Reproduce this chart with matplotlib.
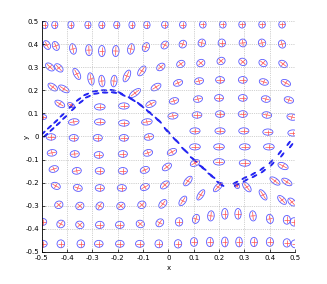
import numpy as np
import matplotlib
matplotlib.use("Agg")
import matplotlib.pyplot as plt
from matplotlib.patches import Ellipse
from matplotlib.collections import LineCollection

plt.rcParams["axes.unicode_minus"] = False

# ---------------------------------------------------------------------------
# Tensor glyphs: centre, full major / minor axis length, major-axis angle (deg)
# one line per (deformed) mesh row, top to bottom
# ---------------------------------------------------------------------------
ell_x = [
    -0.488, -0.449, -0.385, -0.318, -0.263, -0.204, -0.144, -0.085, -0.014, 0.057, 0.136, 0.215, 0.291, 0.370, 0.449,
    -0.480, -0.445, -0.377, -0.314, -0.263, -0.208, -0.148, -0.089, -0.014, 0.057, 0.132, 0.211, 0.294, 0.370, 0.449,
    -0.468, -0.433, -0.362, -0.306, -0.263, -0.215, -0.164, -0.105, -0.030, 0.049, 0.128, 0.208, 0.294, 0.374, 0.453,
    -0.457, -0.413, -0.132, -0.049, 0.038, 0.121, 0.204, 0.294, 0.377, 0.464,
    -0.429, -0.385, -0.271, -0.176, -0.069, 0.022, 0.117, 0.200, 0.294, 0.385, 0.476,
    -0.496, -0.374, -0.271, -0.176, -0.085, 0.018, 0.113, 0.204, 0.294, 0.389, 0.488,
    -0.464, -0.374, -0.279, -0.176, -0.077, 0.105, 0.204, 0.298, 0.393, 0.492,
    -0.460, -0.370, -0.275, -0.180, -0.081, 0.014, 0.105, 0.200, 0.302, 0.397,
    -0.453, -0.362, -0.271, -0.180, -0.093, -0.006, 0.105, 0.200, 0.302, 0.453,
    -0.445, -0.358, -0.271, -0.184, -0.093, -0.014, 0.077, 0.196, 0.271, 0.310, 0.421, 0.468,
    -0.433, -0.350, -0.271, -0.188, -0.105, -0.022, 0.057, 0.128, 0.374, 0.449, 0.488,
    -0.496, -0.425, -0.350, -0.271, -0.192, -0.111, -0.034, 0.042, 0.109, 0.168, 0.223, 0.275, 0.334, 0.401, 0.468, 0.496,
    -0.496, -0.425, -0.346, -0.275, -0.192, -0.113, -0.038, 0.038, 0.101, 0.164, 0.223, 0.279, 0.338, 0.401, 0.468, 0.500,
]
ell_y = [
    0.483, 0.483, 0.483, 0.483, 0.483, 0.483, 0.483, 0.483, 0.484, 0.484, 0.485, 0.485, 0.485, 0.485, 0.485,
    0.396, 0.392, 0.379, 0.374, 0.370, 0.370, 0.379, 0.387, 0.396, 0.400, 0.405, 0.405, 0.405, 0.405, 0.400,
    0.301, 0.297, 0.271, 0.249, 0.240, 0.240, 0.262, 0.284, 0.301, 0.314, 0.318, 0.327, 0.323, 0.318, 0.314,
    0.214, 0.206, 0.188, 0.214, 0.232, 0.240, 0.245, 0.245, 0.236, 0.232,
    0.141, 0.136, 0.128, 0.132, 0.141, 0.154, 0.162, 0.167, 0.167, 0.162, 0.158,
    0.084, 0.063, 0.063, 0.058, 0.063, 0.089, 0.093, 0.097, 0.097, 0.093, 0.084,
    -0.002, -0.006, -0.006, -0.006, -0.002, 0.024, 0.024, 0.024, 0.019, 0.015,
    -0.071, -0.076, -0.080, -0.076, -0.071, -0.067, -0.045, -0.045, -0.045, -0.045,
    -0.141, -0.149, -0.149, -0.149, -0.145, -0.132, -0.115, -0.110, -0.115, -0.128,
    -0.214, -0.223, -0.223, -0.223, -0.219, -0.210, -0.193, -0.219, -0.214, -0.219, -0.193, -0.197,
    -0.296, -0.301, -0.301, -0.301, -0.296, -0.292, -0.279, -0.253, -0.253, -0.275, -0.284,
    -0.370, -0.379, -0.383, -0.383, -0.383, -0.379, -0.374, -0.370, -0.357, -0.344, -0.335, -0.335, -0.344, -0.357, -0.361, -0.370,
    -0.465, -0.465, -0.465, -0.465, -0.465, -0.465, -0.465, -0.465, -0.457, -0.457, -0.457, -0.457, -0.457, -0.457, -0.461, -0.465,
]
ell_major = [
    0.032, 0.032, 0.032, 0.032, 0.032, 0.032, 0.032, 0.032, 0.031, 0.031, 0.031, 0.031, 0.031, 0.031, 0.031,
    0.040, 0.040, 0.046, 0.048, 0.048, 0.048, 0.046, 0.040, 0.036, 0.034, 0.034, 0.034, 0.034, 0.034, 0.035,
    0.042, 0.042, 0.052, 0.054, 0.050, 0.050, 0.054, 0.048, 0.038, 0.035, 0.034, 0.034, 0.034, 0.035, 0.038,
    0.044, 0.048, 0.054, 0.044, 0.038, 0.036, 0.035, 0.035, 0.037, 0.040,
    0.044, 0.030, 0.042, 0.042, 0.044, 0.038, 0.036, 0.035, 0.035, 0.036, 0.038,
    0.030, 0.042, 0.042, 0.042, 0.042, 0.040, 0.038, 0.036, 0.036, 0.038, 0.040,
    0.038, 0.036, 0.036, 0.036, 0.038, 0.040, 0.040, 0.040, 0.040, 0.040,
    0.038, 0.036, 0.036, 0.036, 0.038, 0.040, 0.042, 0.042, 0.042, 0.042,
    0.038, 0.036, 0.036, 0.036, 0.038, 0.042, 0.040, 0.044, 0.044, 0.044,
    0.038, 0.036, 0.036, 0.036, 0.038, 0.042, 0.048, 0.050, 0.024, 0.048, 0.048, 0.046,
    0.034, 0.034, 0.036, 0.034, 0.034, 0.042, 0.046, 0.050, 0.050, 0.046, 0.040,
    0.030, 0.034, 0.034, 0.034, 0.034, 0.034, 0.036, 0.036, 0.040, 0.044, 0.046, 0.046, 0.044, 0.040, 0.038, 0.036,
    0.034, 0.034, 0.034, 0.034, 0.034, 0.034, 0.034, 0.036, 0.038, 0.040, 0.042, 0.042, 0.040, 0.038, 0.036, 0.034,
]
ell_minor = [
    0.024, 0.024, 0.024, 0.024, 0.024, 0.024, 0.024, 0.025, 0.026, 0.026, 0.026, 0.026, 0.026, 0.026, 0.026,
    0.026, 0.026, 0.026, 0.026, 0.026, 0.026, 0.026, 0.027, 0.028, 0.029, 0.029, 0.029, 0.029, 0.029, 0.028,
    0.026, 0.026, 0.024, 0.024, 0.024, 0.024, 0.024, 0.025, 0.027, 0.029, 0.030, 0.030, 0.030, 0.029, 0.027,
    0.025, 0.024, 0.024, 0.026, 0.027, 0.028, 0.029, 0.029, 0.027, 0.026,
    0.025, 0.018, 0.027, 0.027, 0.026, 0.027, 0.028, 0.029, 0.029, 0.028, 0.027,
    0.022, 0.027, 0.027, 0.027, 0.027, 0.027, 0.028, 0.029, 0.029, 0.028, 0.027,
    0.028, 0.029, 0.029, 0.029, 0.028, 0.027, 0.027, 0.027, 0.027, 0.027,
    0.028, 0.029, 0.029, 0.029, 0.028, 0.026, 0.027, 0.027, 0.027, 0.027,
    0.028, 0.029, 0.029, 0.029, 0.028, 0.026, 0.026, 0.028, 0.028, 0.026,
    0.028, 0.029, 0.029, 0.029, 0.028, 0.026, 0.024, 0.022, 0.018, 0.024, 0.024, 0.024,
    0.031, 0.031, 0.029, 0.031, 0.031, 0.026, 0.024, 0.022, 0.022, 0.024, 0.025,
    0.030, 0.031, 0.031, 0.031, 0.031, 0.031, 0.029, 0.029, 0.027, 0.026, 0.025, 0.025, 0.026, 0.027, 0.028, 0.029,
    0.030, 0.030, 0.030, 0.030, 0.030, 0.030, 0.030, 0.029, 0.028, 0.027, 0.026, 0.026, 0.027, 0.028, 0.029, 0.030,
]
ell_angle = [
    90, 90, 90, 90, 90, 90, 90, 90, 90, 90, 90, 90, 90, 90, 90,
    115, 110, 100, 92, 90, 88, 80, 72, 60, 70, 80, 90, 95, 100, 105,
    135, 130, 115, 100, 95, 85, 68, 58, 45, 40, 45, 45, 135, 140, 140,
    140, 145, 40, 35, 25, 15, 0, 0, 160, 150,
    145, 150, 0, 0, 30, 20, 15, 0, 0, 165, 160,
    0, 10, 0, 0, 10, 10, 0, 0, 0, 170, 165,
    0, 0, 0, 0, 15, 0, 0, 0, 0, 0,
    10, 5, 0, 0, 20, 30, 0, 0, 0, 0,
    20, 10, 0, 0, 25, 40, 30, 0, 0, 150,
    150, 160, 0, 0, 30, 45, 55, 50, 120, 125, 140, 145,
    45, 45, 60, 45, 45, 55, 60, 60, 120, 130, 130,
    0, 60, 135, 0, 0, 135, 60, 90, 75, 85, 90, 90, 95, 100, 90, 90,
    0, 90, 90, 0, 0, 0, 90, 90, 90, 90, 90, 90, 90, 90, 90, 90,
]

# Strongly anisotropic glyphs hugging the discontinuity (drawn as thin dashes)
dash_x = [
    -0.495, -0.485, -0.470, -0.460, -0.445, -0.435, -0.420, -0.410,
    -0.385, -0.375, -0.355, -0.345,
    -0.325, -0.318, -0.290, -0.285, -0.255, -0.250, -0.220, -0.215,
    -0.190, -0.180, -0.150, -0.140, -0.115, -0.105, -0.080, -0.070, -0.045, -0.035,
    -0.010, 0.000, 0.025, 0.035, 0.060, 0.070, 0.095, 0.105, 0.130, 0.140, 0.165, 0.175, 0.200, 0.210,
    0.265, 0.270, 0.300, 0.305, 0.335, 0.340, 0.370, 0.375, 0.405, 0.410, 0.440, 0.450, 0.475, 0.485,
]
dash_y = [
    0.015, 0.005, 0.040, 0.030, 0.065, 0.055, 0.092, 0.082,
    0.130, 0.120, 0.160, 0.150,
    0.182, 0.172, 0.196, 0.186, 0.200, 0.190, 0.200, 0.190,
    0.188, 0.180, 0.165, 0.158, 0.140, 0.132, 0.108, 0.100, 0.075, 0.066,
    0.030, 0.020, -0.012, -0.022, -0.055, -0.065, -0.095, -0.105, -0.130, -0.140, -0.165, -0.175, -0.200, -0.210,
    -0.200, -0.210, -0.180, -0.190, -0.162, -0.172, -0.140, -0.150, -0.110, -0.120, -0.070, -0.080, -0.030, -0.040,
]
dash_angle = [
    45, 45, 45, 45, 45, 45, 45, 45,
    45, 45, 40, 40,
    25, 25, 10, 10, 0, 0, -10, -10,
    -30, -30, -35, -35, -45, -45, -50, -50, -50, -50,
    -55, -55, -50, -50, -45, -45, -40, -40, -35, -35, -35, -35, -30, -30,
    30, 30, 30, 30, 32, 32, 40, 40, 50, 50, 55, 55, 55, 55,
]

xticks = [-0.5, -0.4, -0.3, -0.2, -0.1, 0, 0.1, 0.2, 0.3, 0.4, 0.5]
yticks = [-0.5, -0.4, -0.3, -0.2, -0.1, 0, 0.1, 0.2, 0.3, 0.4, 0.5]


def add_glyphs(ax, xs, ys, major, minor, angle, lw, ec, cross_lw=None):
    crosses = []
    for x, y, a, b, t in zip(xs, ys, major, minor, angle):
        ax.add_patch(Ellipse((x, y), a, b, angle=t, fill=False, ec=ec, lw=lw))
        r = np.deg2rad(t)
        ux, uy = np.cos(r), np.sin(r)
        crosses.append([(x - 0.4 * a * ux, y - 0.4 * a * uy),
                        (x + 0.4 * a * ux, y + 0.4 * a * uy)])
        crosses.append([(x + 0.4 * b * uy, y - 0.4 * b * ux),
                        (x - 0.4 * b * uy, y + 0.4 * b * ux)])
    if cross_lw:
        ax.add_collection(LineCollection(crosses, colors=(1.0, 0.3, 0.3), lw=cross_lw))


fig = plt.figure(figsize=(3.27, 2.84), dpi=100)
ax = fig.add_axes([0.128, 0.113, 0.774, 0.813])

add_glyphs(ax, ell_x, ell_y, ell_major, ell_minor, ell_angle, 0.6, (0.35, 0.35, 1.0), 0.5)
n_d = len(dash_x)
add_glyphs(ax, dash_x, dash_y, [0.021] * n_d, [0.004] * n_d, dash_angle, 0.8, (0.15, 0.15, 0.95))

ax.set_xlim(-0.5, 0.5)
ax.set_ylim(-0.5, 0.5)
ax.set_xticks(xticks)
ax.set_yticks(yticks)
ax.set_xticklabels([f"{v:g}" for v in xticks])
ax.set_yticklabels([f"{v:g}" for v in yticks])
ax.tick_params(direction="in", length=2, width=0.5, labelsize=5, pad=2)
ax.grid(True, ls=":", lw=0.5, color="0.65")
for s in ("top", "right"):
    ax.spines[s].set_visible(False)
for s in ("left", "bottom"):
    ax.spines[s].set_linewidth(0.6)
ax.set_xlabel("x", fontsize=5)
ax.set_ylabel("y", fontsize=5)
ax.xaxis.set_label_coords(0.5, -0.058)
ax.yaxis.set_label_coords(-0.047, 0.5)

fig.savefig("out.png", dpi=100)
